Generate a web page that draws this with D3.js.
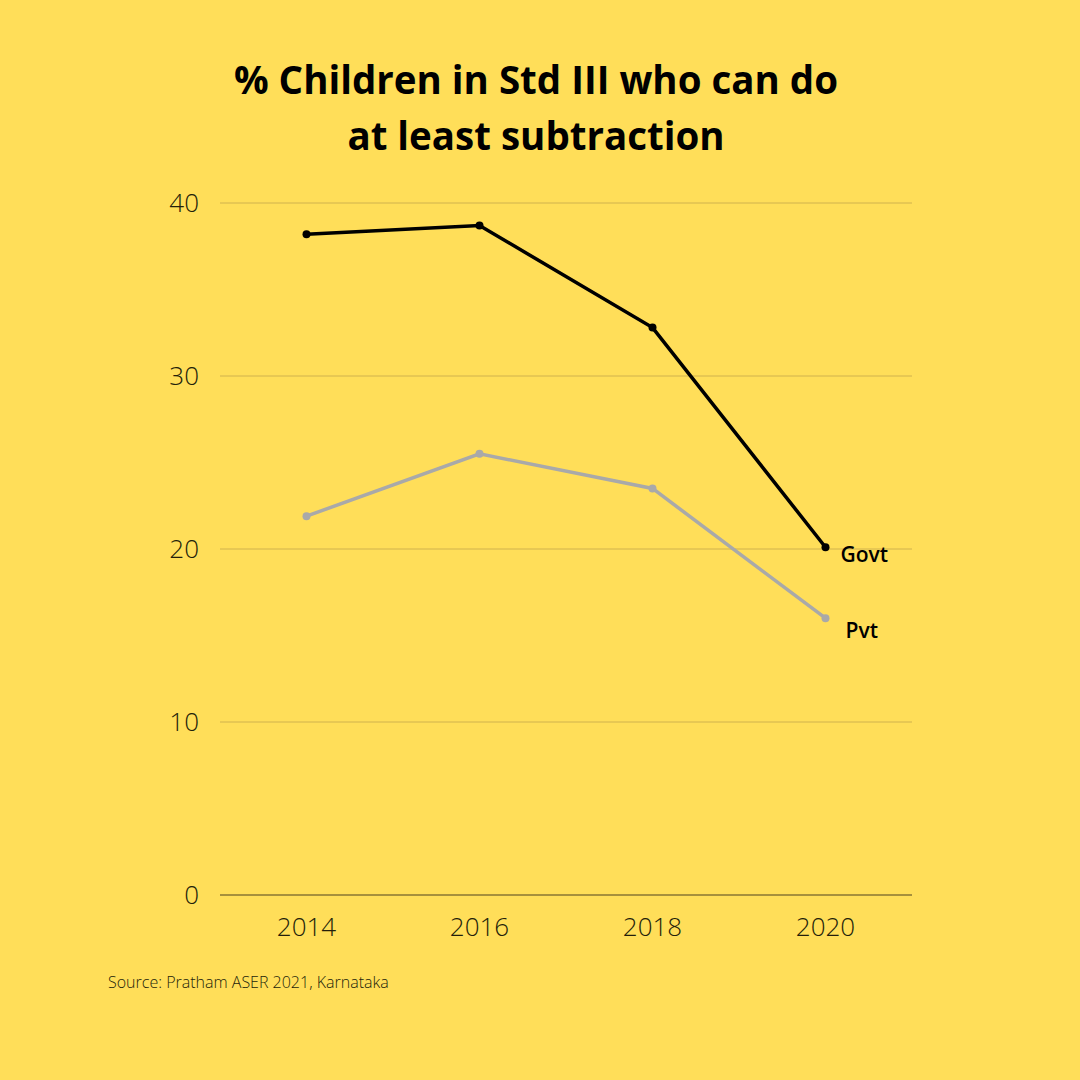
<!DOCTYPE html>
<html>
<head>
<meta charset="utf-8">
<script src="https://cdn.jsdelivr.net/npm/d3@7"></script>
<style>
  body { margin: 0; background: #FFDE59; }
  svg { display: block; font-family: "Open Sans", Lato, sans-serif; }
</style>
</head>
<body>
<script>
const years = ["2014", "2016", "2018", "2020"];
const govt = [38.2, 38.7, 32.8, 20.1];
const pvt = [21.9, 25.5, 23.5, 16.0];
const yTicks = [0, 10, 20, 30, 40];
const titleLines = ["% Children in Std III who can do", "at least subtraction"];
const source = "Source: Pratham ASER 2021, Karnataka";

const width = 1080, height = 1080;
const plotLeft = 220, plotRight = 912, plotTop = 203, plotBottom = 895;

const svg = d3.select("body").append("svg")
    .attr("width", width)
    .attr("height", height);

svg.append("rect").attr("width", width).attr("height", height).attr("fill", "#FFDE59");

const x = d3.scalePoint().domain(years).range([plotLeft, plotRight]).padding(0.5);
const y = d3.scaleLinear().domain([0, 40]).range([plotBottom, plotTop]);

// gridlines
svg.selectAll(".grid")
    .data(yTicks)
    .enter()
    .append("line")
    .attr("x1", plotLeft)
    .attr("x2", plotRight)
    .attr("y1", d => y(d))
    .attr("y2", d => y(d))
    .attr("stroke", d => d === 0 ? "#4f4320" : "#d0b24e")
    .attr("stroke-width", 1);

// y labels
svg.selectAll(".ylab")
    .data(yTicks)
    .enter()
    .append("text")
    .attr("x", 199)
    .attr("y", d => y(d) + 9)
    .attr("text-anchor", "end")
    .attr("font-size", 26)
    .attr("font-weight", 300)
    .attr("fill", "#241e0a")
    .text(d => d);

// x labels
svg.selectAll(".xlab")
    .data(years)
    .enter()
    .append("text")
    .attr("x", d => x(d))
    .attr("y", 936)
    .attr("text-anchor", "middle")
    .attr("font-size", 26)
    .attr("font-weight", 300)
    .attr("fill", "#241e0a")
    .text(d => d);

const line = d3.line().x((d, i) => x(years[i])).y(d => y(d));

const series = [
    { name: "Govt", values: govt, color: "#000000", dx: 15, dy: 15 },
    { name: "Pvt", values: pvt, color: "#a9a9a9", dx: 20, dy: 20 }
];

series.forEach(s => {
    svg.append("path")
        .attr("d", line(s.values))
        .attr("fill", "none")
        .attr("stroke", s.color)
        .attr("stroke-width", 3.5);
    svg.selectAll(null)
        .data(s.values)
        .enter()
        .append("circle")
        .attr("cx", (d, i) => x(years[i]))
        .attr("cy", d => y(d))
        .attr("r", 4)
        .attr("fill", s.color);
    const last = s.values[s.values.length - 1];
    svg.append("text")
        .attr("x", x(years[years.length - 1]) + s.dx)
        .attr("y", y(last) + s.dy)
        .attr("font-size", 21)
        .attr("font-weight", 600)
        .attr("fill", "#000")
        .text(s.name);
});

// title
svg.selectAll(".title")
    .data(titleLines)
    .enter()
    .append("text")
    .attr("x", 536)
    .attr("y", (d, i) => 94 + i * 56)
    .attr("text-anchor", "middle")
    .attr("font-size", 38.5)
    .attr("font-weight", 700)
    .attr("fill", "#000")
    .text(d => d);

svg.append("text")
    .attr("x", 108)
    .attr("y", 988)
    .attr("font-size", 16)
    .attr("font-weight", 300)
    .attr("fill", "#241e0a")
    .text(source);
</script>
</body>
</html>
